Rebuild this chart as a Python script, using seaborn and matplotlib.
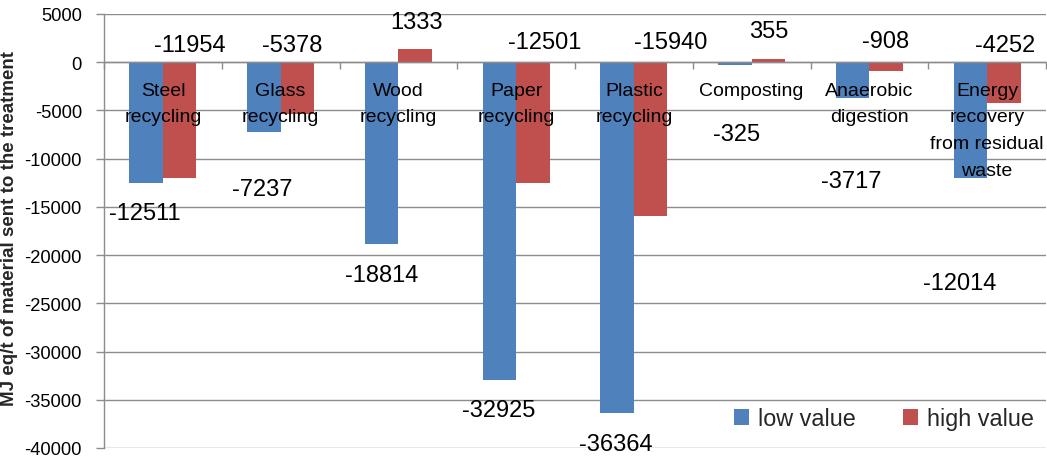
import numpy as np
import pandas as pd
import seaborn as sns
import matplotlib.pyplot as plt
from matplotlib.patches import Patch

# Energy balance per treatment route (MJ eq per tonne of material)
treatments = [
    "Steel\nrecycling",
    "Glass\nrecycling",
    "Wood\nrecycling",
    "Paper\nrecycling",
    "Plastic\nrecycling",
    "Composting",
    "Anaerobic\ndigestion",
    "Energy\nrecovery\nfrom residual\nwaste",
]
low_values = [-12511, -7237, -18814, -32925, -36364, -325, -3717, -12014]
high_values = [-11954, -5378, 1333, -12501, -15940, 355, -908, -4252]
series_names = ["low value", "high value"]
y_ticks = list(range(-40000, 5001, 5000))

# Where each value label sits (category units, data units)
low_label_xy = [(-0.15, -15650), (0.84, -13160), (1.86, -22070), (2.85, -36060),
                (3.85, -39590), (4.87, -7460), (5.85, -12330), (6.77, -22900)]
high_label_xy = [(0.23, 1760), (1.10, 1760), (2.15, 4150), (3.24, 2070),
                 (4.31, 2070), (5.145, 3210), (6.14, 2180), (7.15, 1760)]

colors = ["#4F81BD", "#C0504D"]
grid_gray = "#8C8C8C"

df = pd.DataFrame({
    "treatment": treatments * 2,
    "value": low_values + high_values,
    "series": [series_names[0]] * len(treatments) + [series_names[1]] * len(treatments),
})

sns.set_theme(style="white")
plt.rcParams["font.family"] = ["Liberation Sans", "DejaVu Sans"]

fig = plt.figure(figsize=(10.47, 4.64), dpi=100)
ax = fig.add_axes([104 / 1047, 1 - 449 / 464, 942 / 1047, 434 / 464])

sns.barplot(data=df, x="treatment", y="value", hue="series", hue_order=series_names,
            palette=colors, width=0.57, saturation=1, errorbar=None, linewidth=0,
            legend=False, ax=ax, zorder=3)

ax.set_ylim(-40000, 5000)
ax.set_xlim(-0.5, len(treatments) - 0.5)
ax.set_yticks(y_ticks)
ax.set_yticklabels([str(v) for v in y_ticks], fontsize=13.2, color="#000000")
ax.yaxis.grid(True, color=grid_gray, linewidth=1.0, zorder=0)
ax.set_axisbelow(True)

# Category axis runs along zero, ticks between categories
ax.set_xticks(np.arange(-0.5, len(treatments), 1.0))
ax.set_xticklabels([])
ax.set_xlabel("")
ax.spines["bottom"].set_position(("data", 0))
for side in ["top", "right"]:
    ax.spines[side].set_visible(False)
for side in ["bottom", "left"]:
    ax.spines[side].set_color(grid_gray)
    ax.spines[side].set_linewidth(1.0)
ax.spines["bottom"].set_zorder(4)
ax.tick_params(axis="x", direction="out", length=5, width=1.0, color=grid_gray, bottom=True)
ax.tick_params(axis="y", direction="out", length=6, width=1.0, color=grid_gray, pad=10, left=True)

ax.set_ylabel("MJ eq/t of material sent to the treatment", fontsize=13.5, fontweight="bold")
ax.yaxis.set_label_coords(-0.091, 0.509)

# Category names under the zero line
for i, name in enumerate(treatments):
    ax.text(i, -2000, name, ha="center", va="top", fontsize=14, color="#000000",
            linespacing=1.75, zorder=5)

# Value labels
for (x, y), v in zip(low_label_xy, low_values):
    ax.text(x, y, str(v), ha="center", va="center", fontsize=17, color="#000000", zorder=5)
for (x, y), v in zip(high_label_xy, high_values):
    ax.text(x, y, str(v), ha="center", va="center", fontsize=17, color="#000000", zorder=5)

handles = [Patch(facecolor=c, edgecolor="none", label=n) for c, n in zip(colors, series_names)]
ax.legend(handles=handles, ncol=2, loc="center", bbox_to_anchor=(0.828, 0.067),
          frameon=False, fontsize=16.8, handlelength=0.65, handleheight=0.65,
          handletextpad=0.4, columnspacing=2.0)

fig.savefig("out.png", dpi=100)
